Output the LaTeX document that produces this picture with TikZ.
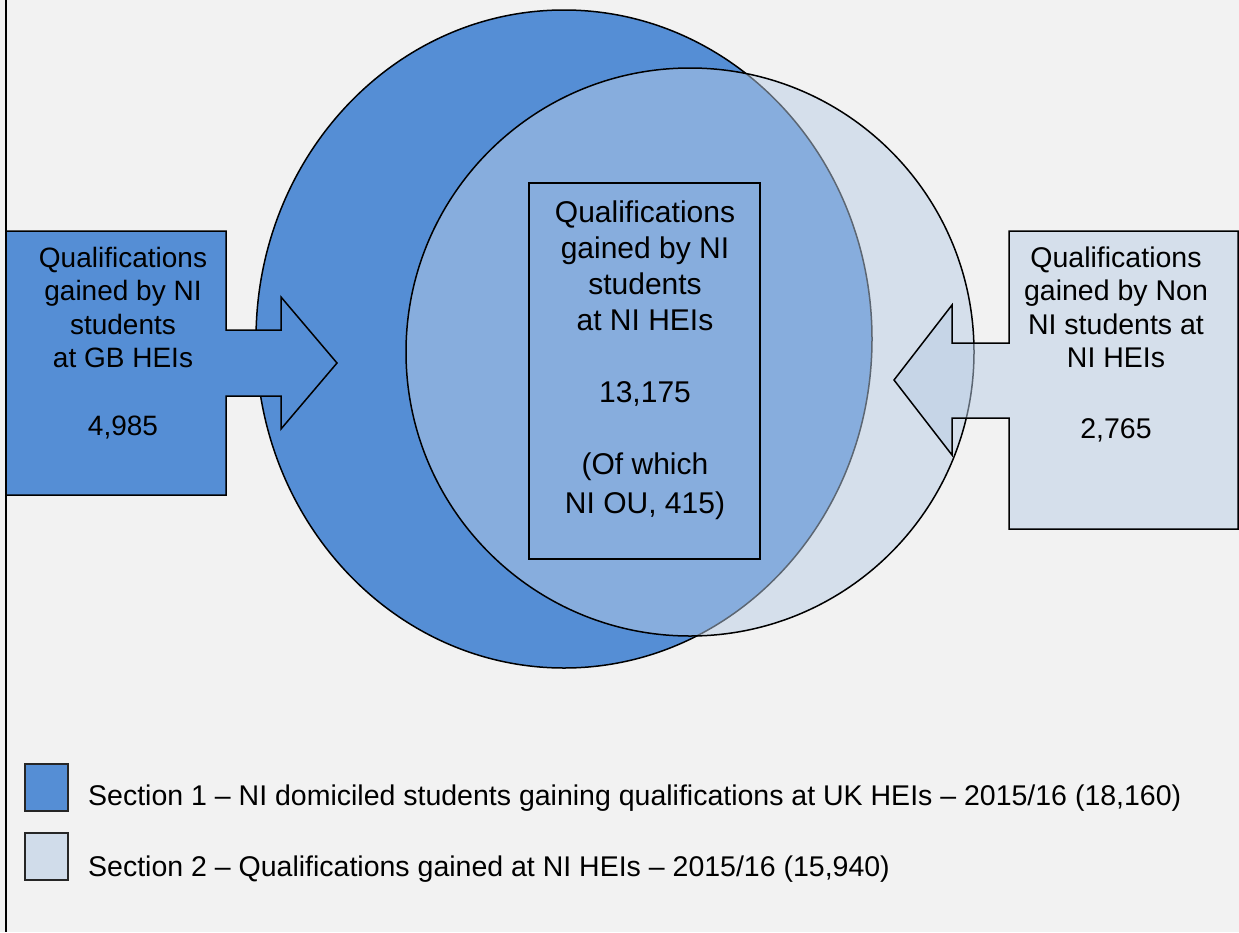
\documentclass[tikz,border=0pt]{standalone}
\usepackage{fontspec}
\setmainfont{Liberation Sans}
\definecolor{bg}{HTML}{F2F2F2}
\definecolor{darkb}{HTML}{558ED5}
\definecolor{lightb}{HTML}{B9CDE5}
\begin{document}
\begin{tikzpicture}[x=1pt,y=-1pt, line join=miter,
  outl/.style={draw=black, line width=1.5pt},
  lbl/.style={align=center, inner sep=0pt, font=\fontsize{28}{33.5}\selectfont, anchor=north},
  legtext/.style={anchor=base west, inner sep=0pt, font=\fontsize{28.5}{34}\selectfont},
  legbox/.style={draw=black!85, line width=1.5pt, minimum width=43pt, minimum height=47pt, inner sep=0pt},
  ]
\fill[bg] (0,0) rectangle (1239,932);
\useasboundingbox (0,0) rectangle (1239,932);
\draw[line width=2pt] (6,0) -- (6,932);
% dark ellipse (section 1)
\draw[outl, fill=darkb] (564,339) ellipse [x radius=308pt, y radius=329pt];
% left callout
\draw[outl, fill=darkb] (6,231) -- (226,231) -- (226,330) -- (281,330) -- (281,297) -- (337,363)
  -- (281,429) -- (281,396) -- (226,396) -- (226,495) -- (6,495) -- cycle;
% light circle (section 2)
\draw[outl, fill=lightb, fill opacity=0.5] (690,352) circle [radius=284pt];
% right callout
\draw[outl, fill=lightb, fill opacity=0.5] (1009,231) -- (1238,231) -- (1238,529) -- (1009,529)
  -- (1009,418) -- (952,418) -- (952,455) -- (894,380) -- (952,305) -- (952,343) -- (1009,343) -- cycle;
% middle box
\node[draw=black, line width=1.5pt, minimum width=231pt, minimum height=376pt, inner sep=0pt] (midbox) at (644.5,371) {};
% texts
\node[lbl] (ltext) at (123,246.6) {Qualifications\\gained by NI\\students\\at GB HEIs\\[34pt]4,985};
\node[lbl, font=\fontsize{30}{36}\selectfont] (mtext) at (645,200.5) {Qualifications\\gained by NI\\students\\at NI HEIs\\[36pt]13,175\\[36pt](Of which\\[3pt]NI OU, 415)};
\node[lbl, font=\fontsize{28.5}{33.5}\selectfont] (rtext) at (1116,246.6) {Qualifications\\gained by Non\\NI students at\\NI HEIs\\[37pt]2,765};
% legend
\node[legbox, fill=darkb] (leg1box) at (46.5,787.5) {};
\node[legbox, fill=lightb!60!bg] (leg2box) at (46.5,856.5) {};
\node[legtext] (leg1) at (88,805) {Section 1 – NI domiciled students gaining qualifications at UK HEIs – 2015/16 (18,160)};
\node[legtext] (leg2) at (88,876) {Section 2 – Qualifications gained at NI HEIs – 2015/16 (15,940)};
\end{tikzpicture}
\end{document}
